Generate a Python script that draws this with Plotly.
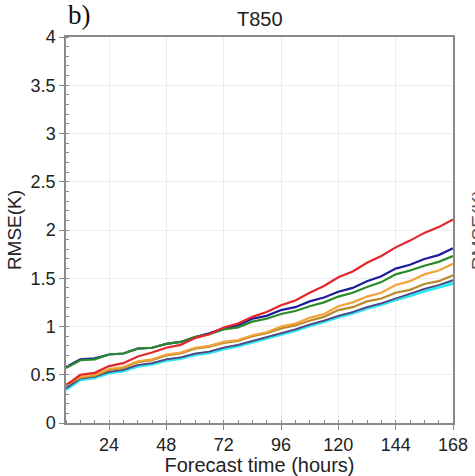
import plotly.graph_objects as go

hours = list(range(6, 169, 6))

red = [0.39, 0.50, 0.52, 0.59, 0.62, 0.69, 0.73, 0.78, 0.81, 0.88, 0.92, 0.99, 1.03, 1.10,
       1.15, 1.22, 1.27, 1.35, 1.42, 1.51, 1.57, 1.66, 1.73, 1.82, 1.89, 1.97, 2.03, 2.11]
blue = [0.58, 0.66, 0.67, 0.71, 0.72, 0.77, 0.78, 0.82, 0.84, 0.89, 0.93, 0.98, 1.01, 1.08,
        1.11, 1.17, 1.20, 1.26, 1.30, 1.36, 1.40, 1.47, 1.52, 1.60, 1.64, 1.70, 1.74, 1.81]
green = [0.57, 0.65, 0.66, 0.71, 0.72, 0.77, 0.78, 0.82, 0.84, 0.89, 0.92, 0.97, 0.99, 1.05,
         1.08, 1.13, 1.16, 1.21, 1.25, 1.31, 1.35, 1.41, 1.46, 1.54, 1.58, 1.63, 1.67, 1.73]
orange = [0.40, 0.48, 0.50, 0.56, 0.58, 0.64, 0.66, 0.71, 0.73, 0.78, 0.80, 0.84, 0.86, 0.91,
          0.94, 1.00, 1.03, 1.09, 1.13, 1.21, 1.25, 1.31, 1.35, 1.43, 1.47, 1.54, 1.58, 1.65]
tan = [0.39, 0.47, 0.49, 0.55, 0.57, 0.63, 0.65, 0.70, 0.72, 0.77, 0.79, 0.83, 0.85, 0.90,
       0.93, 0.98, 1.01, 1.06, 1.10, 1.17, 1.20, 1.26, 1.29, 1.35, 1.38, 1.44, 1.47, 1.53]
purple = [0.36, 0.46, 0.48, 0.53, 0.55, 0.60, 0.62, 0.66, 0.68, 0.72, 0.74, 0.78, 0.81, 0.85,
          0.89, 0.93, 0.97, 1.02, 1.06, 1.11, 1.15, 1.20, 1.24, 1.29, 1.34, 1.39, 1.43, 1.48]
cyan = [0.35, 0.45, 0.47, 0.52, 0.54, 0.59, 0.61, 0.65, 0.67, 0.71, 0.73, 0.77, 0.80, 0.84,
        0.88, 0.92, 0.96, 1.01, 1.05, 1.10, 1.14, 1.19, 1.23, 1.28, 1.32, 1.37, 1.41, 1.45]

x_ticks = [24, 48, 72, 96, 120, 144, 168]

series = [
    ("cyan", cyan, "#2ee6f0", 3.5),
    ("purple", purple, "#56407e", 1.8),
    ("tan", tan, "#b88a2a", 2.2),
    ("orange", orange, "#f2a33a", 2.2),
    ("blue", blue, "#1c1c9c", 2.2),
    ("green", green, "#2a8a2a", 2.2),
    ("red", red, "#e3262b", 2.2),
]

fig = go.Figure()
for name, vals, col, w in series:
    fig.add_trace(go.Scatter(x=hours, y=vals, mode="lines", name=name,
                             line=dict(color=col, width=w), showlegend=False))

axis_col = "#8a8a8a"
fig.update_layout(
    width=475, height=476,
    margin=dict(l=66, r=22, t=37, b=53, autoexpand=False),
    plot_bgcolor="white", paper_bgcolor="white",
    font=dict(family="Liberation Sans, Arial, sans-serif", color="#222", size=18),
    xaxis=dict(range=[6, 168], tickvals=x_ticks, ticks="outside", ticklen=5,
               tickcolor=axis_col, showline=True, linecolor=axis_col, linewidth=1.5,
               mirror=True, showgrid=True, gridcolor="#ececec", gridwidth=1,
               zeroline=False, tickfont=dict(size=18), automargin=False,
               minor=dict(dtick=6, tick0=0, ticks="inside", ticklen=3, tickcolor=axis_col, showgrid=False),
               title=dict(text="Forecast time (hours)", font=dict(size=20), standoff=6)),
    yaxis=dict(range=[0, 4], dtick=0.5, ticks="outside", ticklen=5,
               tickcolor=axis_col, showline=True, linecolor=axis_col, linewidth=1.5,
               mirror=True, showgrid=True, gridcolor="#ececec", gridwidth=1,
               zeroline=False, tickfont=dict(size=18), automargin=False,
               minor=dict(dtick=0.1, ticks="inside", ticklen=3, tickcolor=axis_col, showgrid=False),
               title=dict(text="RMSE(K)", font=dict(size=19), standoff=4)),
)

fig.add_annotation(text="T850", xref="paper", yref="paper", x=0.5, y=1.0, yshift=18,
                   showarrow=False, font=dict(size=20, color="#222"), xanchor="center", yanchor="middle")
fig.add_annotation(text="b)", xref="paper", yref="paper", x=0.0, y=1.0, xshift=0, yshift=22,
                   showarrow=False, font=dict(size=27, family="Liberation Serif, Times New Roman, serif", color="#111"),
                   xanchor="left", yanchor="middle")
fig.add_annotation(text="RMSE(K)", xref="paper", yref="paper", x=(478 - 66) / 387, y=0.5,
                   showarrow=False, textangle=-90, font=dict(size=19, color="#555"),
                   xanchor="center", yanchor="middle")

fig.write_html("out.html")
